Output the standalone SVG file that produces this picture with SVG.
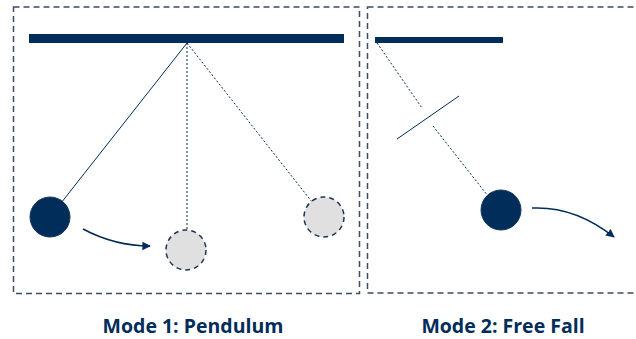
<svg xmlns="http://www.w3.org/2000/svg" width="636" height="339" viewBox="0 0 636 339">
  <style>
    .frame { fill: none; stroke: #3b4b63; stroke-width: 1.5; stroke-dasharray: 6 4; }
    .bar { fill: #002d5a; }
    .rope { stroke: #002d5a; stroke-width: 1; fill: none; }
    .rope-dot { stroke: #002d5a; stroke-width: 1; stroke-dasharray: 2 2; fill: none; }
    .bob { fill: #002d5a; stroke: #1a3a5e; stroke-width: 1; }
    .ghost { fill: #e0e0e0; stroke: #1f3553; stroke-width: 1.5; stroke-dasharray: 5 4; }
    .motion { stroke: #002d5a; stroke-width: 1.5; fill: none; marker-end: url(#head); }
    .label { font-family: "Open Sans", "Noto Sans", sans-serif; font-weight: bold; font-size: 19.5px; fill: #002d5a; text-anchor: middle; }
  </style>
  <defs>
    <marker id="head" viewBox="0 0 10 10" refX="9" refY="5" markerWidth="8.5" markerHeight="8.5" markerUnits="userSpaceOnUse" orient="auto">
      <path d="M0,0 L10,5 L0,10 z" fill="#002d5a"/>
    </marker>
  </defs>

  <!-- panel frames -->
  <g id="frames">
    <rect class="frame" x="13.5" y="7" width="346" height="286.5"/>
    <rect class="frame" x="367.5" y="7" width="275" height="286"/>
  </g>

  <!-- pendulum mode -->
  <g id="support-1">
    <rect class="bar" x="29" y="34" width="315" height="9"/>
  </g>
  <g id="connectors">
    <line class="rope" x1="187" y1="43" x2="50" y2="217"/>
    <line class="rope-dot" x1="187" y1="43" x2="187" y2="231"/>
    <line class="rope-dot" x1="187" y1="43" x2="312" y2="202"/>
    <path class="motion" d="M83,229 Q115,246 150,246"/>
    <!-- cut string -->
    <line class="rope-dot" x1="377" y1="43" x2="422" y2="108"/>
    <line class="rope-dot" x1="433" y1="126" x2="488" y2="196"/>
    <line class="rope" x1="397" y1="139" x2="459" y2="96"/>
    <path class="motion" d="M532,208 Q575,206 614,237"/>
  </g>
  <g id="bob-start">
    <circle class="bob" cx="50" cy="217" r="20"/>
  </g>
  <g id="bob-bottom">
    <circle class="ghost" cx="186" cy="250" r="20"/>
  </g>
  <g id="bob-end">
    <circle class="ghost" cx="324" cy="217" r="20"/>
  </g>

  <!-- free fall mode -->
  <g id="support-2">
    <rect class="bar" x="375" y="37" width="128" height="6"/>
  </g>
  <g id="bob-free">
    <circle class="bob" cx="501" cy="210" r="20"/>
  </g>

  <g id="labels">
    <text class="label" x="193" y="333">Mode 1: Pendulum</text>
    <text class="label" x="503" y="333">Mode 2: Free Fall</text>
  </g>
</svg>
